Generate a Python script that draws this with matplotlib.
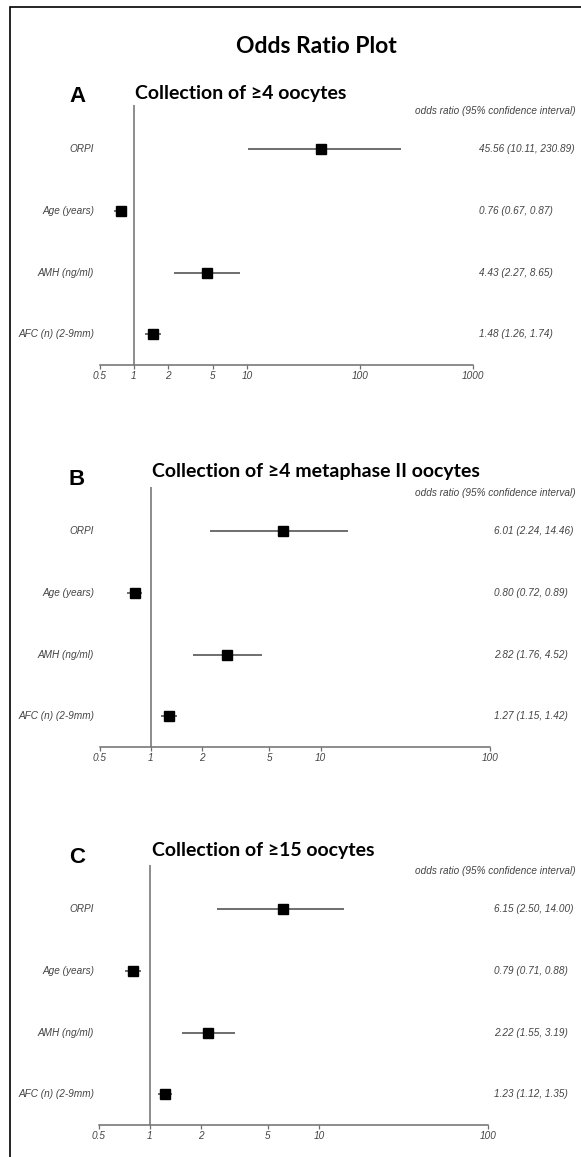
import numpy as np
import matplotlib
matplotlib.use("Agg")
import matplotlib.pyplot as plt
import matplotlib.transforms as mtransforms
from matplotlib.patches import Rectangle

# -----------------------------
# Data (odds ratio, lower, upper)
# -----------------------------
row_labels = ["ORPI", "Age (years)", "AMH (ng/ml)", "AFC (n) (2-9mm)"]

titles = ["Collection of \u22654 oocytes",
          "Collection of \u22654 metaphase II oocytes",
          "Collection of \u226515 oocytes"]
letters = ["A", "B", "C"]

or_a = [45.56, 0.76, 4.43, 1.48]
lo_a = [10.11, 0.67, 2.27, 1.26]
hi_a = [230.89, 0.87, 8.65, 1.74]

or_b = [6.01, 0.80, 2.82, 1.27]
lo_b = [2.24, 0.72, 1.76, 1.15]
hi_b = [14.46, 0.89, 4.52, 1.42]

or_c = [6.15, 0.79, 2.22, 1.23]
lo_c = [2.50, 0.71, 1.55, 1.12]
hi_c = [14.00, 0.88, 3.19, 1.35]

ticks_a = [0.5, 1, 2, 5, 10, 100, 1000]
ticks_bc = [0.5, 1, 2, 5, 10, 100]
tick_labels_a = ["0.5", "1", "2", "5", "10", "100", "1000"]
tick_labels_bc = ["0.5", "1", "2", "5", "10", "100"]

# -----------------------------
# Layout (pixel based)
# -----------------------------
W, H = 581, 1157
fig = plt.figure(figsize=(W / 100, H / 100), dpi=100)

def fx(x): return x / W
def fy(y): return 1 - y / H

panels = [
    # axes px box (x0, x1, ytop, ybottom), title baseline, letter baseline, title x, value x
    dict(d=(or_a, lo_a, hi_a), ticks=ticks_a, tl=tick_labels_a, box=(100, 473, 105, 365),
         tb=99, lb=102, tx=135, vx=479),
    dict(d=(or_b, lo_b, hi_b), ticks=ticks_bc, tl=tick_labels_bc, box=(100, 490, 487, 747),
         tb=477, lb=485, tx=152, vx=494),
    dict(d=(or_c, lo_c, hi_c), ticks=ticks_bc, tl=tick_labels_bc, box=(99, 488, 865, 1125),
         tb=856, lb=863, tx=152, vx=494),
]

small = dict(family="Liberation Sans", style="italic", size=7.2, color="#444444")
gray_line = "#6e6e6e"

# frame around the figure
fig.patches.append(Rectangle((fx(10), fy(1200)), 1.0, fy(7) - fy(1200), transform=fig.transFigure,
                             fill=False, edgecolor="black", linewidth=1.2))

fig.text(fx(316), fy(53), "Odds Ratio Plot", ha="center", va="baseline",
         family=["Lato", "DejaVu Sans"], weight="bold", size=16.5)

for i, p in enumerate(panels):
    x0, x1, yt, yb = p["box"]
    ax = fig.add_axes([fx(x0), fy(yb), (x1 - x0) / W, (yb - yt) / H])
    ors, los, his = p["d"]
    y = np.arange(len(row_labels))

    ax.set_xscale("log")
    ax.set_xlim(p["ticks"][0], p["ticks"][-1])
    ax.set_ylim(3.5, -0.72)

    ax.axvline(1, color=gray_line, lw=1.1, zorder=1)
    ax.hlines(y, los, his, color="#555555", lw=1.2, zorder=2)
    ax.plot(ors, y, "s", color="black", ms=7, zorder=3)

    for s in ["top", "right", "left"]:
        ax.spines[s].set_visible(False)
    ax.spines["bottom"].set_color(gray_line)
    ax.spines["bottom"].set_linewidth(1.1)
    ax.set_yticks([])
    ax.set_xticks(p["ticks"])
    ax.set_xticklabels(p["tl"])
    ax.xaxis.set_minor_locator(matplotlib.ticker.NullLocator())
    ax.tick_params(axis="x", direction="out", length=3, width=0.9, color=gray_line, pad=1.5)
    for t in ax.get_xticklabels():
        t.set_fontfamily("Liberation Sans")
        t.set_fontstyle("italic")
        t.set_fontsize(7.2)
        t.set_color("#444444")
    ax.patch.set_alpha(0)

    trans = mtransforms.blended_transform_factory(fig.transFigure, ax.transData)
    for j, lab in enumerate(row_labels):
        ax.text(fx(94), j, lab, transform=trans, ha="right", va="center", **small)
        val = f"{ors[j]:.2f} ({los[j]:.2f}, {his[j]:.2f})"
        ax.text(fx(p["vx"]), j, val, transform=trans, ha="left", va="center", **small)
    ax.text(fx(576), -0.62, "odds ratio (95% confidence interval)", transform=trans,
            ha="right", va="center", **small)

    fig.text(fx(69), fy(p["lb"]), letters[i], ha="left", va="baseline",
             family="Liberation Sans", weight="bold", size=16)
    fig.text(fx(p["tx"]), fy(p["tb"]), titles[i], ha="left", va="baseline",
             family=["Lato", "DejaVu Sans"], weight="bold", size=14)

fig.savefig("out.png", dpi=100)
